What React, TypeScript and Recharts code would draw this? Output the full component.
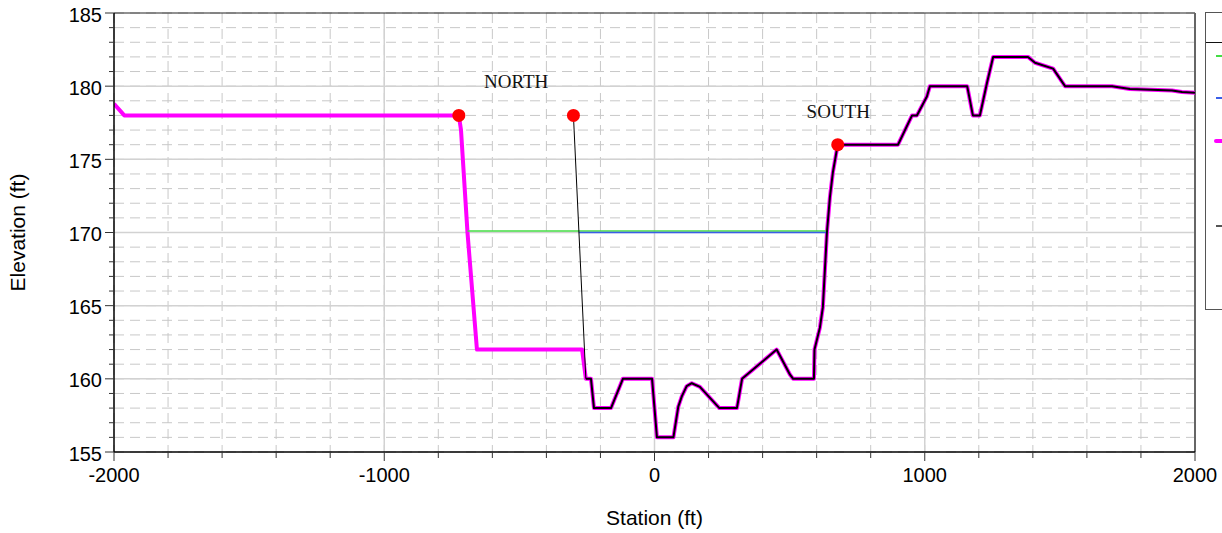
import React from 'react'
import {
  ComposedChart,
  Line,
  Scatter,
  XAxis,
  YAxis,
  CartesianGrid,
  ReferenceLine,
} from 'recharts'

// ground profile, station (ft) / elevation (ft)
const groundStation = [
  -2000, -1962, -724, -716, -692, -657, -268, -254, -235, -224, -161, -117, -9, 9, 70, 88, 101,
  119, 138, 168, 240, 305, 324, 452, 501, 513, 590, 592, 612, 623, 638, 649, 660, 678, 901, 953,
  971, 1008, 1019, 1157, 1178, 1204, 1230, 1253, 1382, 1408, 1475, 1519, 1693, 1759, 1915, 1952,
  2000,
]
const groundElev = [
  178.8, 178, 178, 177, 170, 162, 162, 160, 160, 158, 158, 160, 160, 156, 156, 158.1, 158.8,
  159.5, 159.7, 159.45, 158, 158, 160, 162, 160.3, 160, 160, 162, 163.5, 164.9, 170, 172.4, 174.1,
  176, 176, 178, 178, 179.3, 180, 180, 178, 178, 180.2, 182, 182, 181.6, 181.2, 180, 180, 179.8,
  179.7, 179.6, 179.55,
]

// water surfaces
const wsStation = [-692, 638]
const wsElev = [170.1, 170.1]
const critStation = [-280, 638]
const critElev = [170, 170]

// bank stations
const bankStation = [-724, -300, 678]
const bankElev = [178, 178, 176]

// leader from the north bank down to the channel
const leaderStation = [-300, -254]
const leaderElev = [178, 160]

const labelText = ['NORTH', 'SOUTH']
const labelStation = [-512, 680]
const labelElev = [179.9, 177.8]

const xTicks = Array.from({ length: 21 }, (_, i) => -2000 + i * 200)
const yTicks = Array.from({ length: 31 }, (_, i) => 155 + i)
const xMajor = [-1000, 0, 1000]
const yMajor = [160, 165, 170, 175, 180]

const zip = (xs: number[], ys: number[]) => xs.map((x, i) => ({ x, y: ys[i] }))

const ground = zip(groundStation, groundElev)
const channel = ground.filter(p => p.x >= -254)
const ws = zip(wsStation, wsElev)
const crit = zip(critStation, critElev)
const banks = zip(bankStation, bankElev)
const leader = zip(leaderStation, leaderElev)
const labels = labelText.map((label, i) => ({ x: labelStation[i], y: labelElev[i], label }))

const SANS = '"Liberation Sans", Arial, sans-serif'

const YTick = (props: any) => {
  const { x, y, payload } = props
  const major = payload.value % 5 === 0
  return (
    <g>
      <line x1={x - (major ? 9 : 5)} x2={x} y1={y} y2={y} stroke="#333" />
      {major && (
        <text x={x - 12} y={y + 1.5} dy="0.355em" textAnchor="end" fontSize={20} fontFamily={SANS} fill="#000">
          {payload.value}
        </text>
      )}
    </g>
  )
}

const XTick = (props: any) => {
  const { x, y, payload } = props
  const major = payload.value % 1000 === 0
  return (
    <g>
      <line x1={x} x2={x} y1={y} y2={y + (major ? 9 : 6)} stroke="#333" />
      {major && (
        <text x={x} y={y + 16} dy="0.71em" textAnchor="middle" fontSize={20} fontFamily={SANS} fill="#000">
          {payload.value}
        </text>
      )}
    </g>
  )
}

const YTitle = (props: any) => {
  const { x, y, height } = props.viewBox
  const cx = x + 25
  const cy = y + height / 2
  return (
    <text x={cx} y={cy} transform={`rotate(-90 ${cx} ${cy})`} textAnchor="middle" fontSize={21} fontFamily={SANS} fill="#000">
      Elevation (ft)
    </text>
  )
}

const XTitle = (props: any) => {
  const { x, y, width } = props.viewBox
  return (
    <text x={x + width / 2} y={y + 73} textAnchor="middle" fontSize={21} fontFamily={SANS} fill="#000">
      Station (ft)
    </text>
  )
}

const BankDot = (props: any) => <circle cx={props.cx} cy={props.cy} r={6.5} fill="#ff0000" />

const BankLabel = (props: any) => (
  <text x={props.cx} y={props.cy} textAnchor="middle" fontSize={19} fontFamily='"Liberation Serif", serif' fill="#111">
    {props.payload.label}
  </text>
)

// legend swatches (text is cut off by the window edge)
const legendRows = [
  { color: '#44dd44', width: 1.5, top: 55, left: 1216 },
  { color: '#3a5ee8', width: 1.5, top: 97, left: 1216 },
  { color: '#ff00ff', width: 4, top: 139, left: 1214 },
  { color: '#555555', width: 2, top: 225, left: 1216 },
]

export default function App() {
  return (
    <div style={{ position: 'absolute', left: 0, top: 0, width: 1222, height: 533, overflow: 'hidden', background: '#fff' }}>
      <ComposedChart width={1222} height={533} margin={{ top: 13, right: 27, left: 0, bottom: 0 }}>
        <CartesianGrid stroke="#c8c8c8" strokeDasharray="10 6" />
        {xMajor.map(v => (
          <ReferenceLine key={'x' + v} x={v} stroke="#d2d2d2" strokeWidth={1.5} />
        ))}
        {yMajor.map(v => (
          <ReferenceLine key={'y' + v} y={v} stroke="#d2d2d2" strokeWidth={1.5} />
        ))}
        <ReferenceLine y={185} stroke="#222" strokeWidth={1} />
        <ReferenceLine x={2000} stroke="#666" strokeWidth={2} />
        <XAxis
          dataKey="x"
          type="number"
          domain={[-2000, 2000]}
          ticks={xTicks}
          interval={0}
          tickSize={0}
          tickMargin={0}
          tickLine={false}
          tick={XTick}
          height={81}
          axisLine={{ stroke: '#000', strokeWidth: 1.5 }}
          label={<XTitle />}
          allowDataOverflow
        />
        <YAxis
          dataKey="y"
          type="number"
          domain={[155, 185]}
          ticks={yTicks}
          interval={0}
          tickSize={0}
          tickMargin={0}
          tickLine={false}
          tick={YTick}
          width={114}
          axisLine={{ stroke: '#000', strokeWidth: 1.5 }}
          label={<YTitle />}
          allowDataOverflow
        />
        <Line data={ground} dataKey="y" type="linear" stroke="#ff00ff" strokeWidth={4} strokeLinejoin="round" dot={false} activeDot={false} isAnimationActive={false} />
        <Line data={ws} dataKey="y" type="linear" stroke="#44dd44" strokeWidth={1.5} dot={false} activeDot={false} isAnimationActive={false} />
        <Line data={crit} dataKey="y" type="linear" stroke="#3a5ee8" strokeWidth={1.5} dot={false} activeDot={false} isAnimationActive={false} />
        <Line data={channel} dataKey="y" type="linear" stroke="#000" strokeWidth={2} strokeLinejoin="round" dot={false} activeDot={false} isAnimationActive={false} />
        <Line data={leader} dataKey="y" type="linear" stroke="#000" strokeWidth={1} dot={false} activeDot={false} isAnimationActive={false} />
        <Scatter data={banks} dataKey="y" shape={BankDot} isAnimationActive={false} />
        <Scatter data={labels} dataKey="y" shape={BankLabel} isAnimationActive={false} />
      </ComposedChart>
      <div style={{ position: 'absolute', left: 1205, top: 12, width: 40, height: 298, border: '1.5px solid #555', boxSizing: 'border-box' }}>
        <div style={{ position: 'absolute', left: 0, right: 0, top: 29, borderTop: '1px solid #111' }} />
      </div>
      {legendRows.map((r, i) => (
        <div key={i} style={{ position: 'absolute', left: r.left, top: r.top, width: 20, height: r.width, background: r.color, borderRadius: r.width > 2 ? 2 : 0 }} />
      ))}
    </div>
  )
}
